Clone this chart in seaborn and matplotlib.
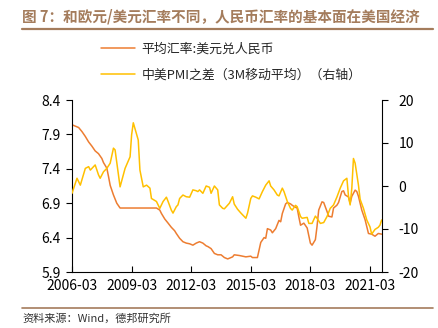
import matplotlib
matplotlib.use("Agg")
import matplotlib.pyplot as plt
import seaborn as sns
import pandas as pd

# ---- data ----
cny_dates = ["2006-03","2006-07","2006-09","2006-11","2007-01","2007-03","2007-05","2007-07",
             "2007-09","2007-10","2007-12","2008-01","2008-02","2008-04","2008-06","2008-08",
             "2009-06","2010-06","2010-08","2010-09","2010-11","2011-01","2011-03","2011-05",
             "2011-06","2011-08","2011-10","2011-12","2012-02","2012-04","2012-06","2012-08",
             "2012-10","2012-12","2013-01","2013-03","2013-05","2013-07","2013-09","2013-11",
             "2014-01","2014-04","2014-05","2014-08","2014-10","2014-12","2015-03","2015-04",
             "2015-07","2015-08","2015-09","2015-11","2015-12","2016-01","2016-03","2016-04",
             "2016-06","2016-08","2016-09","2016-10","2016-12","2017-01","2017-03","2017-04",
             "2017-06","2017-07","2017-08","2017-09","2017-11","2018-01","2018-03","2018-04",
             "2018-06","2018-07","2018-08","2018-10","2018-11","2019-01","2019-02","2019-04",
             "2019-05","2019-07","2019-08","2019-10","2019-11","2019-12","2020-02","2020-03",
             "2020-04","2020-06","2020-07","2020-08","2020-10","2020-12","2021-02","2021-04",
             "2021-06","2021-08","2021-10"]
cny_values = [8.04,8.00,7.94,7.87,7.79,7.73,7.66,7.62,
              7.55,7.49,7.41,7.29,7.16,7.02,6.90,6.83,
              6.83,6.83,6.80,6.75,6.67,6.61,6.55,6.50,
              6.46,6.39,6.34,6.32,6.31,6.29,6.32,6.34,
              6.32,6.28,6.27,6.24,6.17,6.15,6.15,6.11,
              6.09,6.12,6.15,6.14,6.13,6.12,6.13,6.11,
              6.11,6.22,6.33,6.40,6.39,6.53,6.51,6.47,
              6.53,6.65,6.63,6.75,6.89,6.91,6.89,6.87,
              6.84,6.83,6.70,6.58,6.61,6.54,6.32,6.29,
              6.37,6.56,6.80,6.92,6.91,6.78,6.71,6.70,
              6.83,6.87,6.91,7.07,7.08,7.02,6.99,6.90,
              7.00,7.09,7.07,7.00,6.80,6.66,6.46,6.45,
              6.42,6.46,6.45]

pmi_dates = ["2006-03","2006-06","2006-08","2006-11","2007-01","2007-02","2007-05","2007-07",
             "2007-08","2007-10","2007-12","2008-02","2008-04","2008-05","2008-08","2008-11",
             "2009-02","2009-03","2009-04","2009-07","2009-08","2009-10","2009-12","2010-02",
             "2010-03","2010-06","2010-08","2010-10","2010-12","2011-01","2011-03","2011-04",
             "2011-06","2011-07","2011-08","2011-10","2011-12","2012-02","2012-04","2012-06",
             "2012-07","2012-08","2012-10","2012-12","2013-02","2013-03","2013-05","2013-07",
             "2013-08","2013-10","2013-11","2014-02","2014-04","2014-05","2014-07","2014-09",
             "2014-12","2015-01","2015-03","2015-04","2015-06","2015-08","2015-10","2015-12",
             "2016-02","2016-03","2016-05","2016-07","2016-08","2016-10","2016-11","2017-01",
             "2017-03","2017-04","2017-06","2017-07","2017-09","2017-10","2018-01","2018-02",
             "2018-04","2018-06","2018-07","2018-09","2018-11","2019-01","2019-03","2019-05",
             "2019-07","2019-09","2019-11","2020-01","2020-02","2020-03","2020-04","2020-05",
             "2020-06","2020-08","2020-09","2020-11","2021-01","2021-03","2021-04","2021-06",
             "2021-08","2021-09","2021-10"]
pmi_values = [-1.7,1.8,0.2,4.1,4.5,3.7,4.9,2.6,
              1.8,3.3,4.1,5.3,8.8,8.4,-0.2,4.1,
              6.8,11.9,14.7,10.7,3.7,-0.2,0.2,-0.5,
              -2.9,-3.6,-5.2,-3.6,-2.6,-3.6,-5.6,-6.3,
              -4.8,-4.4,-2.9,-2.1,-2.5,-2.6,-0.9,-1.1,
              -1.3,-0.9,-1.7,0.0,-0.3,-1.7,0.0,-0.9,
              -4.4,-5.2,-5.3,-4.0,-2.5,-4.2,-5.4,-6.3,
              -7.5,-6.3,-2.9,-2.3,-2.6,-3.0,-1.3,0.2,
              1.2,0.0,-0.9,-2.1,-2.3,-0.5,-1.3,-3.6,
              -5.2,-5.6,-4.5,-4.8,-7.1,-7.5,-7.3,-8.7,
              -8.7,-7.0,-7.5,-8.7,-8.5,-7.1,-5.2,-4.4,
              -2.6,-0.5,1.2,1.8,-2.5,-4.4,-0.5,6.4,
              5.3,0.2,-3.1,-5.2,-7.9,-9.5,-11.2,-10.1,
              -9.6,-9.1,-7.9]

left_ticks = [5.9, 6.4, 6.9, 7.4, 7.9, 8.4]
right_ticks = [-20, -10, 0, 10, 20]
x_tick_labels = ["2006-03", "2009-03", "2012-03", "2015-03", "2018-03", "2021-03"]

title = "图 7：和欧元/美元汇率不同，人民币汇率的基本面在美国经济"
label_cny = "平均汇率:美元兑人民币"
label_pmi = "中美PMI之差（3M移动平均）（右轴）"
source = "资料来源：Wind，德邦研究所"

ORANGE = "#ED7D31"
YELLOW = "#FFC000"
BROWN = "#A47C5C"

sns.set_theme(style="white")
plt.rcParams["font.family"] = ["Noto Sans CJK SC", "DejaVu Sans"]
plt.rcParams["axes.unicode_minus"] = False

df_cny = pd.DataFrame({"date": pd.to_datetime(cny_dates), "value": cny_values})
df_pmi = pd.DataFrame({"date": pd.to_datetime(pmi_dates), "value": pmi_values})

W, H = 439, 328
fig = plt.figure(figsize=(W / 100, H / 100), dpi=100)
ax = fig.add_axes([72 / W, 1 - 272 / H, (382 - 72) / W, (272 - 100) / H])
ax2 = ax.twinx()

sns.lineplot(data=df_cny, x="date", y="value", ax=ax, color=ORANGE, linewidth=1.1,
             label=label_cny, legend=False)
sns.lineplot(data=df_pmi, x="date", y="value", ax=ax2, color=YELLOW, linewidth=1.1,
             label=label_pmi, legend=False)

ax.set_xlim(pd.Timestamp("2006-03-01"), pd.Timestamp("2021-10-08"))
ax.set_ylim(5.9, 8.4)
ax2.set_ylim(-20, 20)
ax.set_yticks(left_ticks)
ax.set_yticklabels([f"{v:.1f}" for v in left_ticks])
ax2.set_yticks(right_ticks)
ax2.set_yticklabels([str(v) for v in right_ticks])
ax.set_xticks(pd.to_datetime(x_tick_labels))
ax.set_xticklabels(x_tick_labels)
ax.set_xlabel("")
ax.set_ylabel("")
ax2.set_ylabel("")

for a in (ax, ax2):
    a.grid(False)
    a.set_facecolor("none")
    for s in a.spines.values():
        s.set_color("#000000")
        s.set_linewidth(0.8)
    a.spines["top"].set_visible(False)
ax.spines["right"].set_visible(False)
ax2.spines["left"].set_visible(False)
ax2.spines["bottom"].set_visible(False)

ax.tick_params(axis="y", direction="out", length=4, width=0.8, color="#000000",
               labelsize=10, pad=4, labelcolor="#000000", left=True)
ax.tick_params(axis="x", direction="in", length=4, width=0.8, color="#000000",
               labelsize=10, pad=5, labelcolor="#000000", bottom=True)
ax2.tick_params(axis="y", direction="out", length=4, width=0.8, color="#000000",
                labelsize=10, pad=8, labelcolor="#000000", right=True)

# title and rules
fig.text(22 / W, 1 - 16.5 / H, title, fontsize=10.5, fontweight="bold", color=BROWN,
         ha="left", va="center")
fig.add_artist(plt.Line2D([22 / W, 433 / W], [1 - 29 / H, 1 - 29 / H],
                          color=BROWN, linewidth=1.6, transform=fig.transFigure))
fig.add_artist(plt.Line2D([22 / W, 433 / W], [1 - 307.5 / H, 1 - 307.5 / H],
                          color=BROWN, linewidth=1.2, transform=fig.transFigure))
fig.text(22 / W, 1 - 313 / H, source, fontsize=8, color="#333333", ha="left", va="top")

h1, l1 = ax.get_legend_handles_labels()
h2, l2 = ax2.get_legend_handles_labels()
fig.legend(h1 + h2, l1 + l2, loc="upper left", bbox_to_anchor=(101 / W, 1 - 43 / H),
           frameon=False, fontsize=9.3, handlelength=2.6, handletextpad=0.55,
           labelspacing=1.0, borderpad=0, borderaxespad=0)

fig.savefig("out.png", dpi=100)
